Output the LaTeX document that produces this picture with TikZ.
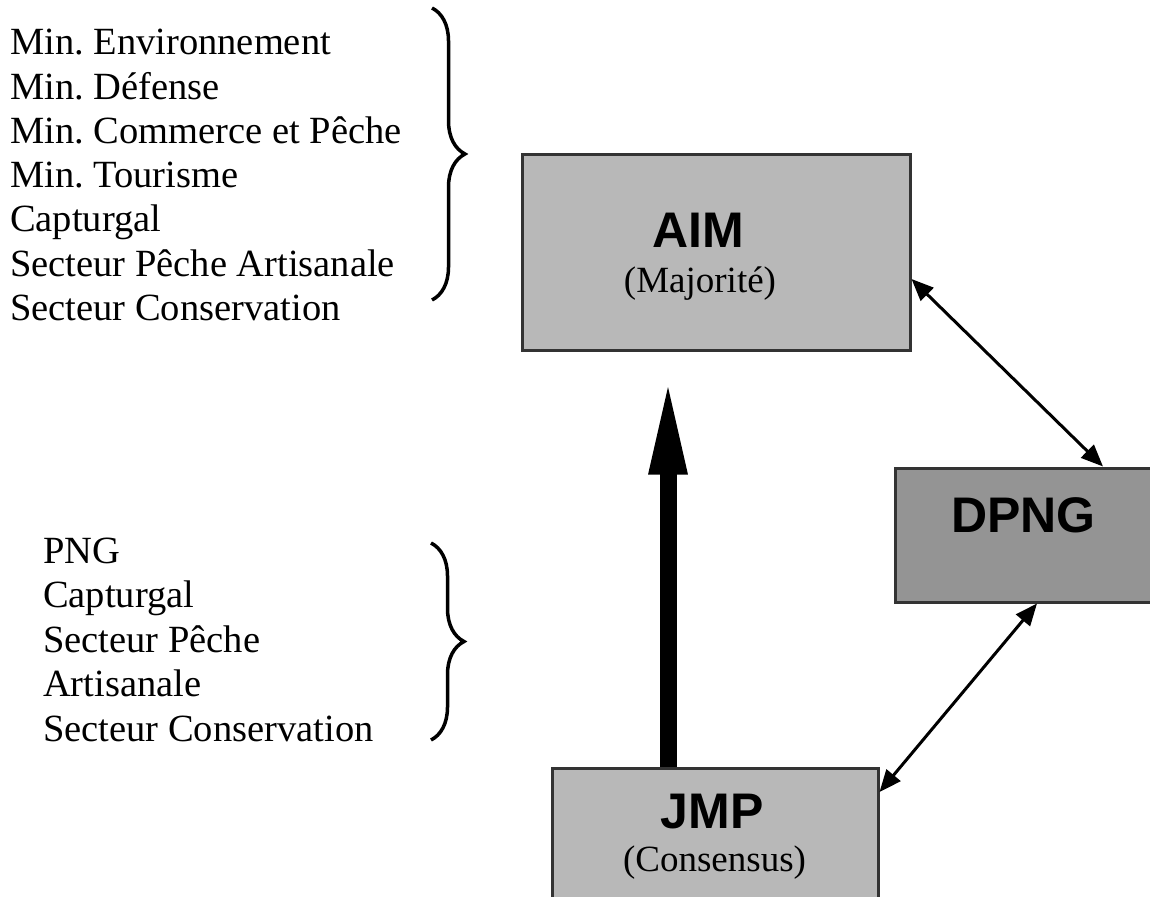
\documentclass[tikz,border=0pt]{standalone}
\usepackage{fontspec}
\setmainfont{Liberation Serif}
\setsansfont{Liberation Sans}
\usetikzlibrary{arrows.meta,decorations.pathreplacing}
\frenchspacing
\tikzset{
  listtext/.style={anchor=base west, inner sep=0pt, font=\fontsize{38.5}{44}\selectfont},
  boxbase/.style={draw=black!80, line width=3pt, inner sep=0pt},
  lightbox/.style={boxbase, fill=black!28},
  darkbox/.style={boxbase, fill=black!42},
  titletext/.style={anchor=base, inner sep=0pt, font=\sffamily\bfseries\fontsize{50}{50}\selectfont},
  subtext/.style={anchor=base, inner sep=0pt, font=\fontsize{37}{37}\selectfont},
  bigarrow/.style={line width=17pt, -{Triangle[length=100pt,width=34pt]}},
  thinarrow/.style={line width=3pt, {Triangle[length=22pt,width=18pt]}-{Triangle[length=22pt,width=18pt]}},
  bracestyle/.style={decorate, decoration={brace, amplitude=33pt}, line width=3.5pt}
}
\begin{document}
\begin{tikzpicture}[x=1pt,y=-1pt]
\useasboundingbox (0,0) rectangle (1150,896);

% boxes
\node[lightbox, minimum width=388pt, minimum height=195pt] (aim) at (716,252.5) {};
\node[darkbox, minimum width=270pt, minimum height=134pt] (dpng) at (1030,535) {};
\node[lightbox, minimum width=326pt, minimum height=152pt] (jmp) at (715,844) {};

% box texts
\node[titletext] (aimt) at (698,247) {AIM};
\node[subtext] (aimm) at (700,292) {(Majorité)};
\node[titletext] (dpngt) at (1023.5,532) {DPNG};
\node[titletext] (jmpt) at (712,828) {JMP};
\node[subtext] (jmpc) at (714.5,871) {(Consensus)};

% top list
\node[listtext] (t1) at (10,55) {Min. Environnement};
\node[listtext] (t2) at (10,99.2) {Min. Défense};
\node[listtext] (t3) at (10,143.4) {Min. Commerce et Pêche};
\node[listtext] (t4) at (10,187.6) {Min. Tourisme};
\node[listtext] (t5) at (10,231.8) {Capturgal};
\node[listtext] (t6) at (10,276) {Secteur Pêche Artisanale};
\node[listtext] (t7) at (10,320.2) {Secteur Conservation};

% bottom list
\node[listtext] (b1) at (43,563) {PNG};
\node[listtext] (b2) at (43,607.5) {Capturgal};
\node[listtext] (b3) at (43,652) {Secteur Pêche};
\node[listtext] (b4) at (43,696.5) {Artisanale};
\node[listtext] (b5) at (43,741) {Secteur Conservation};

% braces
\coordinate (br1a) at (432,8);
\coordinate (br1b) at (432,300);
\coordinate (br2a) at (431,543);
\coordinate (br2b) at (431,740);
\draw[bracestyle] (br1a) -- (br1b);
\draw[bracestyle] (br2a) -- (br2b);

% connectors
\draw[bigarrow, shorten >=23pt] ([xshift=-47pt]jmp.north) -- ([xshift=-48pt]aim.south);
\draw[thinarrow] ([yshift=-26.5pt]aim.east) -- ([xshift=73pt]dpng.north);
\draw[thinarrow] ([xshift=7pt]dpng.south) -- ([yshift=52pt]jmp.east);
\end{tikzpicture}
\end{document}
